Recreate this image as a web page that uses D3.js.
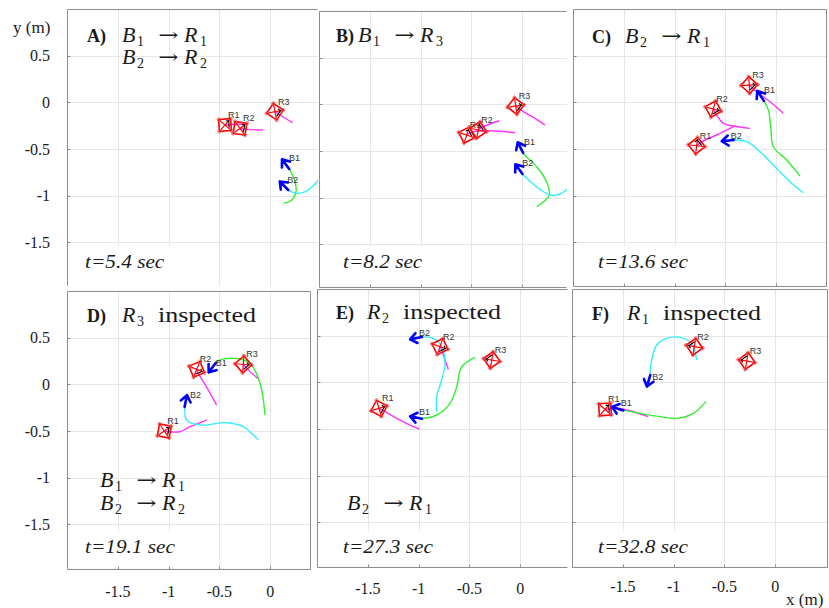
<!DOCTYPE html>
<html>
<head>
<meta charset="utf-8">
<script src="https://cdn.jsdelivr.net/npm/d3@7"></script>
<style>
  body { margin: 0; background: #fff; }
  svg { display: block; }
  svg text { font-family: "Liberation Serif", "Times New Roman", serif; fill: #1a1a1a; }
  svg text.tag { font-family: "Liberation Sans", Arial, sans-serif; font-size: 9px; fill: #333; }
  svg text.arrow { font-family: "DejaVu Serif", serif; }
</style>
</head>
<body>
<svg id="fig" width="829" height="608"></svg>
<script>
// ---- data (metres), panels in order A..F ----
var panelLetters = ["A", "B", "C", "D", "E", "F"];
var panelTimes = ["5.4", "8.2", "13.6", "19.1", "27.3", "32.8"];
var xTicks = [-1.5, -1, -0.5, 0];
var yTicks = [0.5, 0, -0.5, -1, -1.5];
var xDomain = [-2, 0.5];
var yDomain = [1, -2];

// assignments shown in the title ([drone, rover]) and inspected rover
var titleAssign = [[[1, 1], [2, 2]], [[1, 3]], [[2, 1]], [], [], []];
var titleInspected = [0, 0, 0, 3, 2, 1];
var noteAssign = [[], [], [], [[1, 1], [2, 2]], [[2, 1]], []];

// rover trails (magenta), first point = current rover position; [R1, R2, R3]
var roverTrails = [
  [
    [[-0.445, -0.243], [-0.33, -0.235], [-0.218, -0.233]],
    [[-0.297, -0.279], [-0.231, -0.29], [-0.067, -0.297]],
    [[0.047, -0.10], [0.096, -0.136], [0.221, -0.218]]
  ],
  [
    [[-0.546, -0.329], [-0.48, -0.293], [-0.317, -0.283], [-0.071, -0.304]],
    [[-0.432, -0.275], [-0.383, -0.24], [-0.30, -0.204], [-0.225, -0.176]],
    [[-0.064, -0.018], [0.011, -0.079], [0.126, -0.15], [0.224, -0.222]]
  ],
  [
    [[-0.783, -0.465], [-0.733, -0.422], [-0.586, -0.35], [-0.487, -0.297], [-0.406, -0.254]],
    [[-0.619, -0.072], [-0.586, -0.136], [-0.52, -0.225], [-0.422, -0.254], [-0.258, -0.279]],
    [[-0.265, 0.185], [-0.192, 0.114], [-0.061, 0.006], [0.07, -0.118]]
  ],
  [
    [[-1.042, -0.50], [-1.003, -0.508], [-0.888, -0.508], [-0.79, -0.454], [-0.625, -0.383]],
    [[-0.723, 0.16], [-0.707, 0.118], [-0.609, -0.061], [-0.527, -0.222]],
    [[-0.265, 0.214], [-0.231, 0.171], [-0.123, 0.064]]
  ],
  [
    [[-1.39, -0.279], [-1.347, -0.304], [-1.215, -0.386], [-1.085, -0.458], [-0.993, -0.50]],
    [[-0.789, 0.382], [-0.773, 0.346], [-0.74, 0.239], [-0.707, 0.139]],
    [[-0.28, 0.239]]
  ],
  [
    [[-1.675, -0.29], [-1.528, -0.279], [-1.397, -0.315], [-1.249, -0.368]],
    [[-0.796, 0.382]],
    [[-0.28, 0.228]]
  ]
];

// drone trails, first point = current drone position; [B1 (green), B2 (cyan)]
var droneTrails = [
  [
    [[0.146, -0.654], [0.195, -0.726], [0.244, -0.851], [0.254, -0.958], [0.212, -1.047], [0.136, -1.083]],
    [[0.129, -0.886], [0.178, -0.94], [0.277, -0.975], [0.375, -0.94], [0.474, -0.833], [0.52, -0.76]]
  ],
  [
    [[-0.022, -0.454], [0.011, -0.525], [0.142, -0.669], [0.24, -0.83], [0.267, -0.972], [0.142, -1.097]],
    [[-0.038, -0.686], [0.011, -0.758], [0.142, -0.883], [0.273, -0.972], [0.372, -0.961], [0.454, -0.90], [0.5, -0.85]]
  ],
  [
    [[-0.159, 0.078], [-0.127, 0.025], [-0.077, -0.083], [-0.054, -0.261], [-0.028, -0.476], [0.103, -0.618], [0.234, -0.79]],
    [[-0.487, -0.411], [-0.422, -0.404], [-0.29, -0.422], [-0.159, -0.529], [-0.028, -0.672], [0.136, -0.851], [0.267, -0.969]]
  ],
  [
    [[-0.576, 0.171], [-0.527, 0.242], [-0.363, 0.279], [-0.199, 0.225], [-0.10, 0.011], [-0.051, -0.329]],
    [[-0.829, -0.168], [-0.839, -0.222], [-0.822, -0.383], [-0.69, -0.436], [-0.428, -0.411], [-0.265, -0.454], [-0.117, -0.597]]
  ],
  [
    [[-1.035, -0.375], [-0.986, -0.386], [-0.822, -0.35], [-0.691, -0.225], [-0.625, -0.047], [-0.576, 0.167], [-0.445, 0.268]],
    [[-1.035, 0.471], [-0.986, 0.482], [-0.855, 0.471], [-0.773, 0.382], [-0.74, 0.203], [-0.773, 0.025], [-0.822, -0.154], [-0.822, -0.315]]
  ],
  [
    [[-1.56, -0.279], [-1.528, -0.29], [-1.331, -0.332], [-1.134, -0.368], [-0.97, -0.386], [-0.806, -0.332], [-0.681, -0.207]],
    [[-1.249, 0.006], [-1.239, 0.043], [-1.216, 0.239], [-1.166, 0.40], [-1.068, 0.471], [-0.937, 0.482], [-0.822, 0.418], [-0.773, 0.239]]
  ]
];

// ---- layout of the six pasted panels (pixels) ----
var layout = [
  { left: 67,  top: 9,   right: 318, bottom: 286, sides: "lt",   yLabels: true,  xLabels: false, xlabY: 0,   title: [87, 42],  math: 122, time: [85, 268] },
  { left: 319, top: 11,  right: 567, bottom: 288, sides: "ltb",  yLabels: false, xLabels: false, xlabY: 0,   title: [336, 42], math: 358, time: [343, 268] },
  { left: 573, top: 9,   right: 827, bottom: 287, sides: "ltbr", yLabels: false, xLabels: false, xlabY: 0,   title: [592, 43], math: 625, time: [598, 268] },
  { left: 67,  top: 291, right: 311, bottom: 570, sides: "ltbr", yLabels: true,  xLabels: true,  xlabY: 597, title: [87, 322], math: 122, time: [85, 553], note: [100, 487] },
  { left: 317, top: 289, right: 568, bottom: 568, sides: "ltb",  yLabels: false, xLabels: true,  xlabY: 594, title: [336, 319], math: 367, time: [343, 553], note: [347, 510] },
  { left: 572, top: 289, right: 828, bottom: 568, sides: "ltbr", yLabels: false, xLabels: true,  xlabY: 592, title: [592, 320], math: 627, time: [598, 553] }
];

var svg = d3.select("#fig");
var trailColors = ["#33ee33", "#33eeff"];
var roverColor = "#ff33ff";

var line = d3.line().curve(d3.curveCatmullRom.alpha(0.5));

function headingDeg(pts) {
  if (pts.length < 2) return 55;
  var dx = pts[0][0] - pts[1][0], dy = pts[0][1] - pts[1][1];
  return Math.atan2(dy, dx) * 180 / Math.PI;
}

// "B_b -> R_r" in math style
function assignText(g, x, y, b, r) {
  var t = g.append("g").attr("transform", "translate(" + x + "," + y + ")");
  t.append("text").style("font-style", "italic").style("font-size", "22px").text("B");
  t.append("text").attr("x", 15).attr("y", 4).style("font-size", "14px").text(b);
  t.append("text").attr("class", "arrow").attr("text-anchor", "middle")
    .attr("transform", "translate(46.5,-1) scale(1.35,1)")
    .style("font-size", "18px").text("\u2192");
  t.append("text").attr("x", 62).style("font-style", "italic").style("font-size", "22px").text("R");
  t.append("text").attr("x", 78).attr("y", 4).style("font-size", "14px").text(r);
}

panelLetters.forEach(function(letter, p) {
  var L = layout[p];
  var x = d3.scaleLinear().domain(xDomain).range([L.left, L.left + 254]);
  var y = d3.scaleLinear().domain(yDomain).range([L.top, L.top + 280]);
  var g = svg.append("g");

  var clipId = "clip" + letter;
  svg.append("clipPath").attr("id", clipId).append("rect")
    .attr("x", L.left).attr("y", L.top)
    .attr("width", L.right - L.left).attr("height", L.bottom - L.top);

  // white panel background (covers the neighbour's overflow)
  g.append("rect").attr("x", L.left).attr("y", L.top)
    .attr("width", L.right - L.left).attr("height", L.bottom - L.top).attr("fill", "#fff");

  var inner = g.append("g").attr("clip-path", "url(#" + clipId + ")");

  // grid
  inner.selectAll(".gx").data(xTicks).enter().append("line")
    .attr("x1", function(d) { return Math.round(x(d)) + 0.5; })
    .attr("x2", function(d) { return Math.round(x(d)) + 0.5; })
    .attr("y1", L.top).attr("y2", L.bottom)
    .attr("stroke", "#e6e6e6").attr("stroke-width", 1);
  inner.selectAll(".gy").data(yTicks).enter().append("line")
    .attr("y1", function(d) { return Math.round(y(d)) + 0.5; })
    .attr("y2", function(d) { return Math.round(y(d)) + 0.5; })
    .attr("x1", L.left).attr("x2", L.right)
    .attr("stroke", "#e6e6e6").attr("stroke-width", 1);

  // white box behind the time stamp
  inner.append("rect").attr("x", L.left + 1).attr("y", L.time[1] - 22)
    .attr("width", L.time[0] - L.left + 100).attr("height", 40).attr("fill", "#fff");

  // trails
  roverTrails[p].forEach(function(tr) {
    if (tr.length < 2) return;
    inner.append("path").attr("d", line(tr.map(function(d) { return [x(d[0]), y(d[1])]; })))
      .attr("fill", "none").attr("stroke", roverColor).attr("stroke-width", 1.4);
  });
  droneTrails[p].forEach(function(tr, i) {
    inner.append("path").attr("d", line(tr.map(function(d) { return [x(d[0]), y(d[1])]; })))
      .attr("fill", "none").attr("stroke", trailColors[i]).attr("stroke-width", 1.4);
  });

  // rovers
  roverTrails[p].forEach(function(tr, i) {
    var px = tr.map(function(d) { return [x(d[0]), y(d[1])]; });
    var a = headingDeg(px);
    var m = inner.append("g").attr("transform", "translate(" + px[0][0] + "," + px[0][1] + ") rotate(" + a + ")");
    var s = 6;
    var corners = [[-s, -s], [s, -s], [s, s], [-s, s]];
    m.append("polygon").attr("points", corners.join(" "))
      .attr("fill", "none").attr("stroke", "#ff0000").attr("stroke-width", 1.6);
    m.append("line").attr("x1", -s).attr("y1", -s).attr("x2", s).attr("y2", s)
      .attr("stroke", "#ff0000").attr("stroke-width", 1.2);
    m.append("line").attr("x1", -s).attr("y1", s).attr("x2", s).attr("y2", -s)
      .attr("stroke", "#ff0000").attr("stroke-width", 1.2);
    m.selectAll("circle").data(corners).enter().append("circle")
      .attr("cx", function(d) { return d[0]; }).attr("cy", function(d) { return d[1]; })
      .attr("r", 1.6).attr("fill", "none").attr("stroke", "#e05555").attr("stroke-width", 0.8);
    m.append("polyline").attr("points", "-1,4 -4,4 -4,-3")
      .attr("fill", "none").attr("stroke", "#000").attr("stroke-width", 1.1);
    inner.append("text").attr("class", "tag").attr("x", px[0][0] + 3).attr("y", px[0][1] - 7)
      .text("R" + (i + 1));
  });

  // drones
  droneTrails[p].forEach(function(tr, i) {
    var px = tr.map(function(d) { return [x(d[0]), y(d[1])]; });
    var a = headingDeg(px);
    inner.append("path")
      .attr("transform", "translate(" + px[0][0] + "," + px[0][1] + ") rotate(" + a + ")")
      .attr("d", "M-7,0L5,0M-1.5,-5L5,0L-1.5,5")
      .attr("fill", "none").attr("stroke", "#0000ff").attr("stroke-width", 2.6)
      .attr("stroke-linecap", "round").attr("stroke-linejoin", "round");
    inner.append("text").attr("class", "tag").attr("x", px[0][0] + 4).attr("y", px[0][1] - 2)
      .text("B" + (i + 1));
  });

  // box and ticks
  var bc = "#8c8c8c";
  var l = L.left + 0.5, t = L.top + 0.5, r = L.right - 0.5, b = L.bottom - 0.5;
  if (L.sides.indexOf("l") >= 0) g.append("line").attr("x1", l).attr("x2", l).attr("y1", t).attr("y2", b).attr("stroke", bc);
  if (L.sides.indexOf("t") >= 0) g.append("line").attr("x1", l).attr("x2", r).attr("y1", t).attr("y2", t).attr("stroke", bc);
  if (L.sides.indexOf("b") >= 0) g.append("line").attr("x1", l).attr("x2", r).attr("y1", b).attr("y2", b).attr("stroke", bc);
  if (L.sides.indexOf("r") >= 0) g.append("line").attr("x1", r).attr("x2", r).attr("y1", t).attr("y2", b).attr("stroke", bc);
  g.selectAll(".ty").data(yTicks).enter().append("line")
    .attr("x1", l).attr("x2", l + 3)
    .attr("y1", function(d) { return Math.round(y(d)) + 0.5; })
    .attr("y2", function(d) { return Math.round(y(d)) + 0.5; })
    .attr("stroke", bc);
  if (L.sides.indexOf("b") >= 0) {
    g.selectAll(".tx").data(xTicks).enter().append("line")
      .attr("y1", b).attr("y2", b - 3)
      .attr("x1", function(d) { return Math.round(x(d)) + 0.5; })
      .attr("x2", function(d) { return Math.round(x(d)) + 0.5; })
      .attr("stroke", bc);
  }

  // tick labels
  if (L.yLabels) {
    g.selectAll(".ly").data(yTicks).enter().append("text")
      .attr("x", 50).attr("y", function(d) { return y(d) + 5.5; })
      .attr("text-anchor", "end").style("font-size", "16px")
      .text(function(d) { return d; });
  }
  if (L.xLabels) {
    g.selectAll(".lx").data(xTicks).enter().append("text")
      .attr("x", function(d) { return x(d); }).attr("y", L.xlabY)
      .attr("text-anchor", "middle").style("font-size", "16px")
      .text(function(d) { return d; });
  }

  // title
  g.append("text").attr("x", L.title[0]).attr("y", L.title[1])
    .style("font-weight", "bold").style("font-size", "18px")
    .text(letter + ")");
  titleAssign[p].forEach(function(a, k) {
    assignText(g, L.math, L.title[1] + k * 22, a[0], a[1]);
  });
  if (titleInspected[p]) {
    var tg = g.append("g").attr("transform", "translate(" + L.math + "," + L.title[1] + ")");
    tg.append("text").style("font-style", "italic").style("font-size", "22px").text("R");
    tg.append("text").attr("x", 15).attr("y", 4).style("font-size", "14px").text(titleInspected[p]);
    tg.append("text").attr("x", 36).style("font-size", "22px")
      .attr("textLength", 98).attr("lengthAdjust", "spacingAndGlyphs").text("inspected");
  }
  noteAssign[p].forEach(function(a, k) {
    assignText(g, L.note[0], L.note[1] + k * 23, a[0], a[1]);
  });

  // time stamp
  g.append("text")
    .attr("transform", "translate(" + L.time[0] + "," + L.time[1] + ") scale(1.12,1)")
    .style("font-style", "italic").style("font-size", "19px")
    .text("t=" + panelTimes[p] + " sec");
});

// axis names
svg.append("text").attr("x", 13).attr("y", 33).style("font-size", "17px").text("y (m)");
svg.append("text").attr("x", 786).attr("y", 605).style("font-size", "17px").text("x (m)");
</script>
</body>
</html>
